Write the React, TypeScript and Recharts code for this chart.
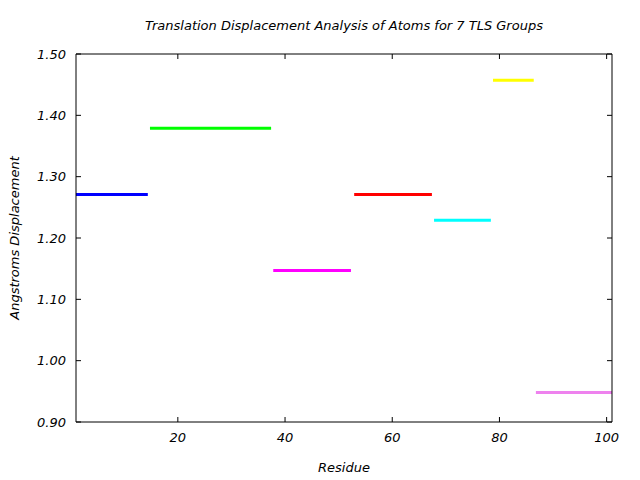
import { LineChart, Line, XAxis, YAxis, Label } from 'recharts'

// TLS groups: residue range and mean translation displacement
const groupNames = ['TLS 1', 'TLS 2', 'TLS 3', 'TLS 4', 'TLS 5', 'TLS 6', 'TLS 7']
const groupStart = [1, 14.8, 37.8, 52.9, 67.8, 78.8, 86.8]
const groupEnd = [14.4, 37.4, 52.3, 67.4, 78.4, 86.4, 101]
const groupDisp = [1.271, 1.379, 1.147, 1.271, 1.229, 1.457, 0.948]
const groupColors = ['#0000ff', '#00ff00', '#ff00ff', '#ff0000', '#00ffff', '#ffff00', '#ee82ee']

const xTicks = [20, 40, 60, 80, 100]
const yTicks = [0.9, 1.0, 1.1, 1.2, 1.3, 1.4, 1.5]

const font = "'DejaVu Sans', sans-serif"
const tickStyle = { fontSize: 13, fontStyle: 'italic', fill: '#000', fontFamily: font }
const blank = () => ''

export default function App() {
  const series = groupNames.map((name, i) => ({
    name,
    color: groupColors[i],
    data: [
      { x: groupStart[i], y: groupDisp[i] },
      { x: groupEnd[i], y: groupDisp[i] },
    ],
  }))

  return (
    <div style={{ position: 'absolute', left: 0, top: 0, width: 640, height: 480, background: '#fff', fontFamily: font }}>
      <div style={{
        position: 'absolute', top: 18, left: 76, width: 536, textAlign: 'center',
        fontSize: 13, fontStyle: 'italic', color: '#000'
      }}>
        Translation Displacement Analysis of Atoms for 7 TLS Groups
      </div>
      <LineChart width={640} height={480} margin={{ top: 54, right: 28, bottom: 0, left: 0 }}>
        <XAxis dataKey="x" type="number" domain={[1, 101]} ticks={xTicks} allowDataOverflow
          height={58} tickLine={false} tickSize={6} tickMargin={5} interval={0}
          axisLine={{ stroke: '#000', strokeWidth: 1 }} tick={tickStyle}>
          <Label value="Residue" position="insideBottom" offset={8}
            style={{ fontSize: 13, fontStyle: 'italic', fill: '#000', fontFamily: font }} />
        </XAxis>
        {/* inward tick marks on all four sides */}
        <XAxis xAxisId="bt" dataKey="x" type="number" domain={[1, 101]} ticks={xTicks} allowDataOverflow mirror interval={0}
          axisLine={false} tickLine={{ stroke: '#000' }} tickSize={5} tickFormatter={blank} />
        <XAxis xAxisId="top" dataKey="x" orientation="top" type="number" domain={[1, 101]} ticks={xTicks} allowDataOverflow mirror interval={0}
          axisLine={{ stroke: '#000' }} tickLine={{ stroke: '#000' }} tickSize={5} tickFormatter={blank} />
        <YAxis type="number" domain={[0.9, 1.5]} ticks={yTicks} allowDataOverflow
          width={76} tickLine={false} tickSize={6} tickMargin={4} interval={0}
          axisLine={{ stroke: '#000', strokeWidth: 1 }} tick={tickStyle}
          tickFormatter={(v: number) => v.toFixed(2)}>
          <Label content={() => (
            <text x={19} y={238} transform="rotate(-90 19 238)" textAnchor="middle"
              style={{ fontSize: 13, fontStyle: 'italic', fill: '#000', fontFamily: font }}>
              Angstroms Displacement
            </text>
          )} />
        </YAxis>
        <YAxis yAxisId="lt" type="number" domain={[0.9, 1.5]} ticks={yTicks} allowDataOverflow mirror interval={0}
          axisLine={false} tickLine={{ stroke: '#000' }} tickSize={5} tickFormatter={blank} />
        <YAxis yAxisId="rt" orientation="right" type="number" domain={[0.9, 1.5]} ticks={yTicks} allowDataOverflow mirror interval={0}
          axisLine={{ stroke: '#000' }} tickLine={{ stroke: '#000' }} tickSize={5} tickFormatter={blank} />
        <Line data={series[0].data} dataKey="y" xAxisId="bt" yAxisId="lt" stroke="none"
          dot={false} activeDot={false} isAnimationActive={false} />
        <Line data={series[0].data} dataKey="y" xAxisId="top" yAxisId="rt" stroke="none"
          dot={false} activeDot={false} isAnimationActive={false} />
        {series.map(s => (
          <Line key={s.name} data={s.data} dataKey="y" type="linear"
            stroke={s.color} strokeWidth={3} dot={false} activeDot={false}
            isAnimationActive={false} />
        ))}
      </LineChart>
    </div>
  )
}
